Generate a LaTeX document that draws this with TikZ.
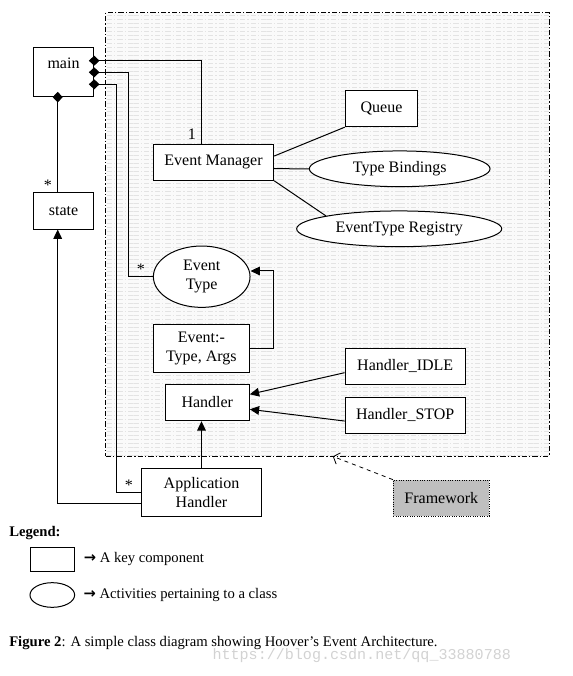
\documentclass[tikz,border=0pt]{standalone}
\usepackage{fontspec}
\setmainfont{Liberation Serif}
\newfontfamily\arrowfont{DejaVu Sans}
\newfontfamily\markfont{Liberation Mono}
\usetikzlibrary{positioning,arrows.meta,shapes.geometric,patterns,calc}

\begin{document}
\begin{tikzpicture}[
    x=0.75pt, y=0.75pt,
    node distance=9pt,
    cls/.style={rectangle, draw, fill=white, line width=0.75pt, align=center, font=\fontsize{12}{14.25}\selectfont},
    act/.style={ellipse, draw, fill=white, line width=0.75pt, align=center, inner sep=0pt, font=\fontsize{12}{14.25}\selectfont},
    fwarea/.style={rectangle, draw, line width=0.6pt, dash pattern=on 4pt off 1.5pt on 1pt off 1.5pt, preaction={fill=gray!4}, pattern=horizontal lines, pattern color=gray!22},
    link/.style={line width=0.75pt},
    agg/.style={line width=0.75pt, {Diamond[length=8pt,width=7.5pt]}-, shorten <=-4pt},
    arrow/.style={line width=0.75pt, -{Triangle[length=7pt,width=6.5pt]}},
    mult/.style={font=\fontsize{12}{14}\selectfont, inner sep=1pt},
    legtext/.style={font=\fontsize{11}{13}\selectfont, anchor=west, inner sep=0pt},
]
\useasboundingbox (0,0) rectangle (573,-676);

% framework area
\node[fwarea, minimum width=332.5pt, minimum height=332.5pt] (fwk) at (327.3,-234.3) {};

% classes and activities
\node[cls, minimum width=45.3pt, minimum height=36.5pt, text depth=14pt] (main) at (63.5,-72.3) {main};
\node[cls, minimum width=45.3pt, minimum height=27.5pt] (state) at (63.5,-210.7) {state};
\node[cls, minimum width=90.3pt, minimum height=27pt] (em) at (213.5,-162.3) {Event Manager};
\node[cls, minimum width=54.3pt, minimum height=26.8pt] (queue) at (381.5,-108.8) {Queue};
\node[act, minimum width=135.5pt, minimum height=26.8pt] (tb) at (399.7,-168.8) {Type Bindings};
\node[act, minimum width=153.8pt, minimum height=26.8pt] (reg) at (399.2,-228.8) {EventType Registry};
\node[act, minimum width=72.5pt, minimum height=46pt] (et) at (201.7,-276.7) {Event\\Type};
\node[cls, minimum width=72pt, minimum height=36.3pt] (ev) at (201.3,-348.5) {Event:-\\Type, Args};
\node[cls, minimum width=63pt, minimum height=27.3pt] (hd) at (207.3,-402.5) {Handler};
\node[cls, minimum width=90.2pt, minimum height=27pt] (idle) at (405.2,-366.3) {Handler\_IDLE};
\node[cls, minimum width=90.2pt, minimum height=27pt, below=9pt of idle] (stop) {Handler\_STOP};
\node[cls, minimum width=90.3pt, minimum height=36.3pt] (ah) at (201.5,-492.5) {Application\\Handler};
\node[cls, fill=gray!50, densely dotted, line width=0.5pt, minimum width=72pt, minimum height=27pt] (fw) at (441.3,-498) {Framework};

% aggregations from main
\draw[agg] ([yshift=8.7pt]main.east) -| ([xshift=-8.85pt]em.north)
    node[at end, anchor=south east, mult, xshift=-3pt, yshift=2pt] {1};
\draw[agg] (main.east) -| ($(et.west)+(-24,0)$) -- node[midway, above, mult] {*} (et.west);
\draw[agg] ([yshift=-9pt]main.east) -| ($(ah.west)+(-24,0)$) -- node[midway, above, mult] {*} (ah.west);
\draw[agg] ([xshift=-4.35pt]main.south) -- ([xshift=-4.35pt]state.north)
    node[at end, anchor=south east, mult, xshift=-3pt] {*};

% associations and inheritance
\draw[arrow] ([yshift=-8.6pt]ah.west) -| ([xshift=-4.35pt]state.south);
\draw[arrow] (ev.east) -- ++(24,0) |- ([yshift=4.3pt]et.east);
\draw[arrow] ([yshift=-4.8pt]idle.west) -- ([yshift=6.15pt]hd.east);
\draw[arrow] ([yshift=-4.3pt]stop.west) -- ([yshift=-5.1pt]hd.east);
\draw[arrow] (ah.north) -- (ah.north |- hd.south);
\draw[link] ([yshift=4.7pt]em.east) -- (queue.south west);
\draw[link] ([yshift=-4.8pt]em.east) -- (tb.west);
\draw[link] (em.south east) -- (reg.170);
\draw[dashed, line width=0.6pt, -{Straight Barb[length=4pt,width=9pt]}] (fw.north west) -- ($(fwk.south west)+(227.6,0)$);

% legend
\node[legtext, font=\bfseries\fontsize{11}{13}\selectfont] (leg) at (9,-533.3) {Legend:};
\node[cls, minimum width=32.8pt, minimum height=18.2pt] (legbox) at (52.2,-559.2) {};
\node[act, minimum width=33.5pt, minimum height=18.5pt] (legell) at (52.3,-595) {};
\node[legtext, right=6.75pt of legbox] (legboxtxt) {{\arrowfont\bfseries →} A key component};
\node[legtext, right=6.2pt of legell] (legelltxt) {{\arrowfont\bfseries →} Activities pertaining to a class};

% caption
\node[legtext] (cap) at (9,-642.7) {\textbf{Figure 2}: A simple class diagram showing Hoover’s Event Architecture.};
\node[anchor=west, inner sep=0pt, text=gray!35, font=\markfont\fontsize{11.3}{13}\selectfont] (wm) at (212.3,-655.7) {https://blog.csdn.net/qq\_33880788};

\end{tikzpicture}
\end{document}
